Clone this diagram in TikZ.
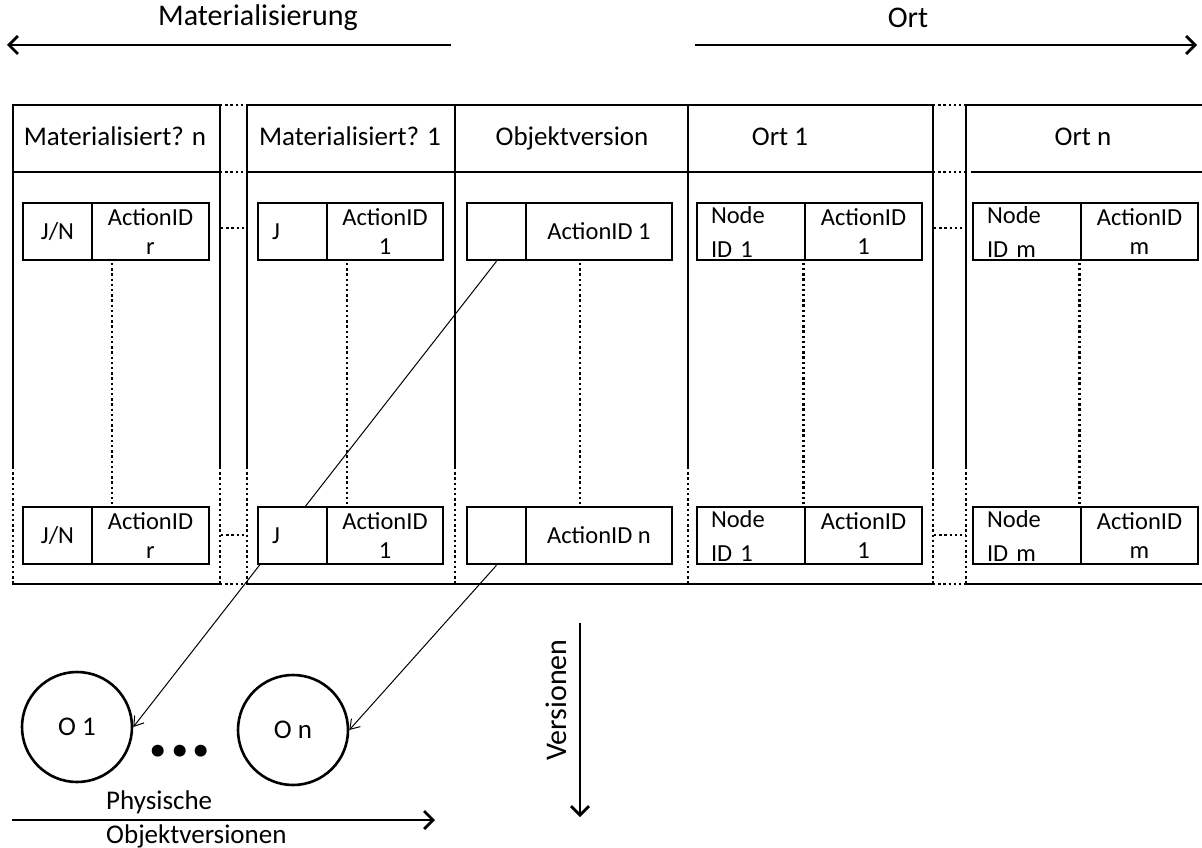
\documentclass[tikz,border=0pt]{standalone}
\usepackage{fontspec}
\setmainfont{Carlito}
\usetikzlibrary{arrows.meta}
\pgfdeclarelayer{links}
\pgfsetlayers{links,main}
\begin{document}
\begin{tikzpicture}[x=1pt,y=1pt,
  grid/.style={line width=2.8pt, line cap=rect},
  griddot/.style={line width=2.6pt, dash pattern=on 2.4pt off 2.8pt},
  cell/.style={draw, line width=2.6pt, fill=white, inner sep=0pt,
    minimum height=57pt, align=center, font=\fontsize{24.5}{29}\selectfont},
  lcell/.style={cell, align=left, inner xsep=14pt},
  nodecell/.style={lcell, font=\fontsize{24.5}{34}\selectfont},
  head/.style={font=\fontsize{27}{30}\selectfont, anchor=base},
  caption/.style={font=\fontsize{27}{30}\selectfont, inner sep=0pt},
  toplabel/.style={font=\fontsize{30}{32}\selectfont},
  link/.style={line width=1pt, -{Straight Barb[length=9pt,width=12pt]}},
  bigarrow/.style={line width=2.8pt, -{Straight Barb[length=9pt,width=18pt]}},
  obj/.style={circle, draw, line width=2.6pt, minimum size=110pt, inner sep=0pt,
    font=\fontsize{27}{30}\selectfont},
]
\useasboundingbox (0,0) rectangle (1202,-848);

% direction arrows above the table
\coordinate (matR) at (451,-45);
\coordinate (matL) at (7,-45);
\coordinate (ortL) at (695,-45);
\coordinate (ortR) at (1197,-45);
\draw[bigarrow] (matR) -- (matL);
\draw[bigarrow] (ortL) -- (ortR);
\node[toplabel] (matlab) at (258,-18) {Materialisierung};
\node[toplabel] (ortlab) at (908,-18) {Ort};

% table frame: horizontal rules
\foreach \y in {105,172,584} {
  \draw[grid] (13,-\y) -- (220,-\y);
  \draw[grid] (247,-\y) -- (933,-\y);
  \draw[griddot] (220,-\y) -- (247,-\y);
  \draw[griddot] (933,-\y) -- (966,-\y);
}
\draw[grid] (966,-105) -- (1202,-105);
\draw[grid] (972,-172) -- (1202,-172);
\draw[grid] (966,-584) -- (1202,-584);
% table frame: column rules, solid then dotted
\foreach \x in {13,220,247,455,688,933,966} {
  \draw[grid] (\x,-105) -- (\x,-467);
  \draw[griddot] (\x,-467) -- (\x,-584);
}

% column headers
\node[head] (h1) at (115,-146) {Materialisiert? n};
\node[head] (h2) at (350,-146) {Materialisiert? 1};
\node[head] (h3) at (572,-146) {Objektversion};
\node[head] (h4) at (780,-146) {Ort 1};
\node[head] (h5) at (1083,-146) {Ort n};

% first entry row
\node[cell, minimum width=69pt] (a1L) at (57.5,-231.5) {J/N};
\node[cell, minimum width=117pt] (a1R) at (150.5,-231.5) {ActionID\\r};
\node[lcell, minimum width=69pt, text width=41pt] (b1L) at (292.5,-231.5) {J};
\node[cell, minimum width=116pt] (b1R) at (385,-231.5) {ActionID\\1};
\node[cell, minimum width=59pt] (c1L) at (496.5,-231.5) {};
\node[cell, minimum width=146pt] (c1R) at (599,-231.5) {ActionID 1};
\node[nodecell, minimum width=108pt, text width=80pt] (d1L) at (751,-231.5) {Node\\ID 1};
\node[cell, minimum width=117pt] (d1R) at (863.5,-231.5) {ActionID\\1};
\node[nodecell, minimum width=108pt, text width=80pt] (e1L) at (1027,-231.5) {Node\\ID m};
\node[cell, minimum width=117pt] (e1R) at (1139.5,-231.5) {ActionID\\m};

% last entry row
\node[cell, minimum width=69pt] (a2L) at (57.5,-535.5) {J/N};
\node[cell, minimum width=117pt] (a2R) at (150.5,-535.5) {ActionID\\r};
\node[lcell, minimum width=69pt, text width=41pt] (b2L) at (292.5,-535.5) {J};
\node[cell, minimum width=116pt] (b2R) at (385,-535.5) {ActionID\\1};
\node[cell, minimum width=59pt] (c2L) at (496.5,-535.5) {};
\node[cell, minimum width=146pt] (c2R) at (599,-535.5) {ActionID n};
\node[nodecell, minimum width=108pt, text width=80pt] (d2L) at (751,-535.5) {Node\\ID 1};
\node[cell, minimum width=117pt] (d2R) at (863.5,-535.5) {ActionID\\1};
\node[nodecell, minimum width=108pt, text width=80pt] (e2L) at (1027,-535.5) {Node\\ID m};
\node[cell, minimum width=117pt] (e2R) at (1139.5,-535.5) {ActionID\\m};

% elided rows between first and last entry
\foreach \x in {112,347,580} \draw[griddot] (\x,-263) -- (\x,-504);
\draw[griddot] ([yshift=-1.5pt]d1R.south west) -- ([yshift=1.5pt]d2R.north west);
\draw[griddot] ([yshift=-1.5pt]e1R.south west) -- ([yshift=1.5pt]e2R.north west);
% elided columns
\foreach \y in {228,535} {
  \draw[griddot] (221,-\y) -- (247,-\y);
  \draw[griddot] (934,-\y) -- (966,-\y);
}

% physical object versions
\node[obj] (o1) at (77,-727) {O 1};
\node[obj] (on) at (293,-730) {O n};
\node[font=\fontsize{80}{80}\selectfont\bfseries, anchor=base, inner sep=0pt] (ell) at (180,-756) {...};

\begin{pgfonlayer}{links}
  \draw[link] (c1L.south) -- (o1.east);
  \draw[link] (c2L.south) -- (on.east);
\end{pgfonlayer}

% axis of physical versions
\coordinate (pvL) at (12,-820);
\coordinate (pvR) at (435,-820);
\draw[bigarrow] (pvL) -- (pvR);
\node[caption, anchor=west] (phys) at (106,-802) {Physische};
\node[caption, anchor=west] (objv) at (106,-836) {Objektversionen};

% axis of versions
\coordinate (vT) at (580,-623);
\coordinate (vB) at (580,-817);
\draw[bigarrow] (vT) -- (vB);
\node[rotate=90, font=\fontsize{30}{32}\selectfont] (vlab) at (556,-700) {Versionen};
\end{tikzpicture}
\end{document}
